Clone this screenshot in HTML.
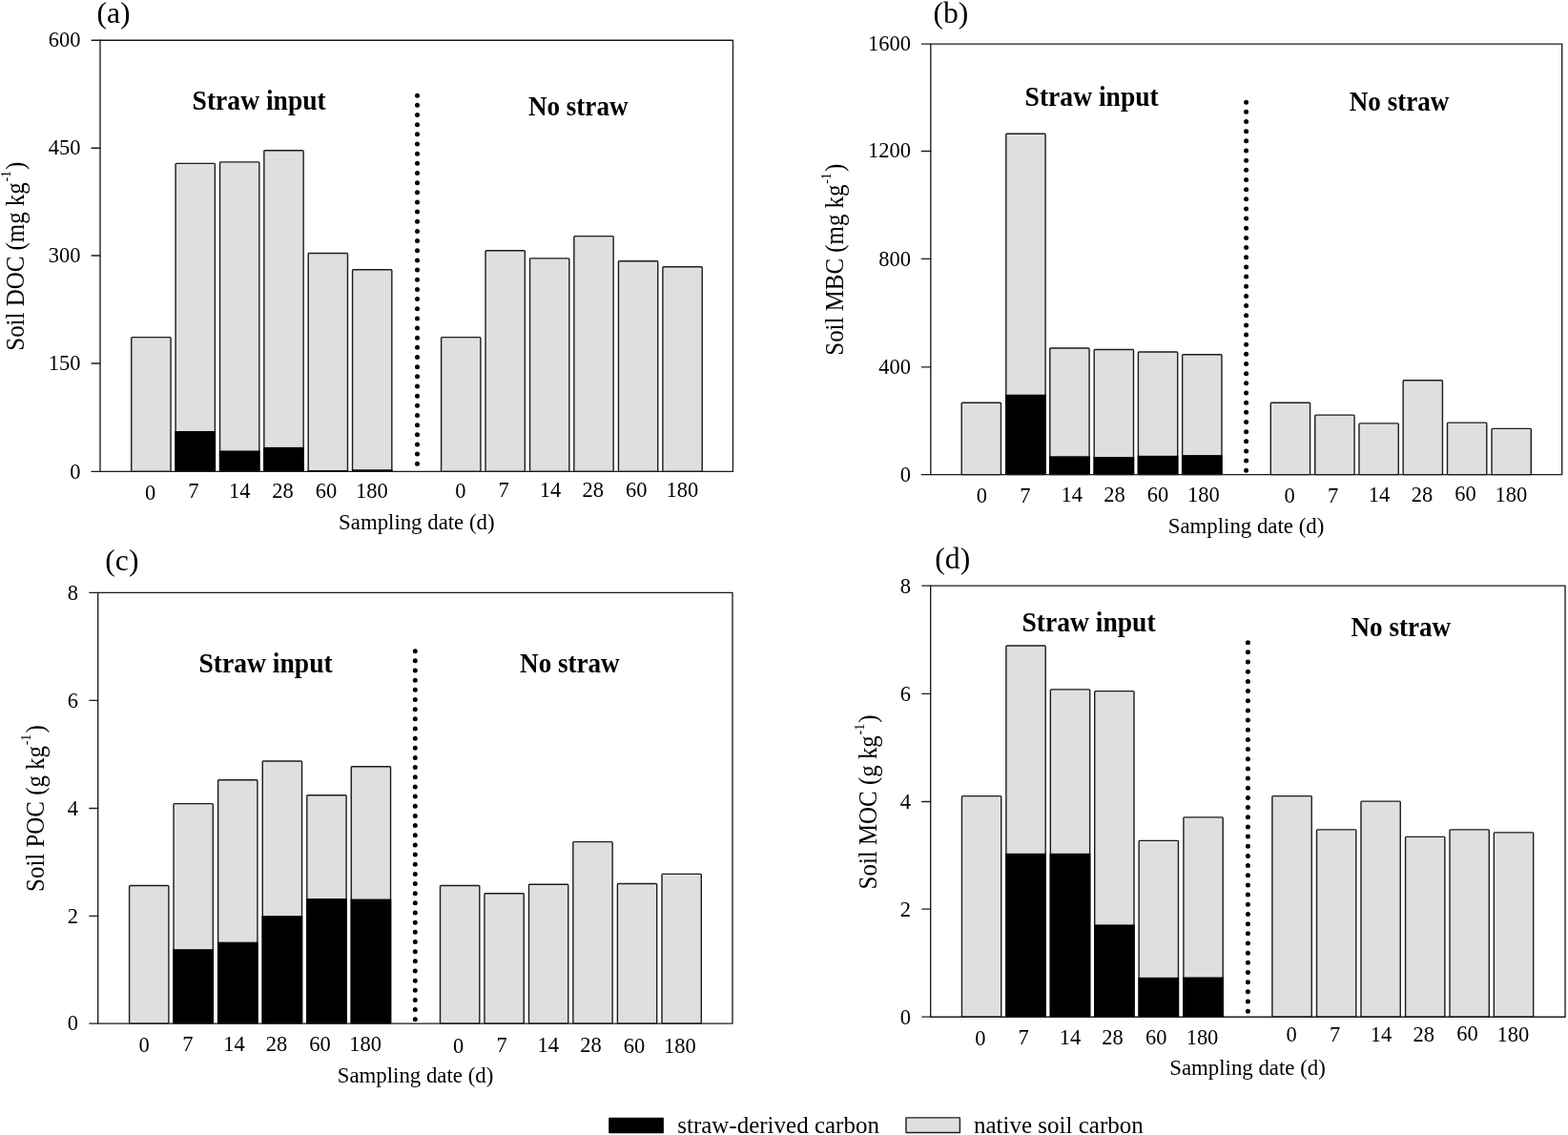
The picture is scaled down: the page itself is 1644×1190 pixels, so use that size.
<!DOCTYPE html>
<html lang="en">
<head>
<meta charset="utf-8">
<title>Soil carbon fractions: straw-derived and native soil carbon</title>
<style>
html,body{margin:0;padding:0;background:#fff;}
body{width:1644px;height:1190px;overflow:hidden;}
svg{display:block;}
text{font-family:"Liberation Serif","Times New Roman",Times,serif;fill:#000;}
.bar{fill:#dfdfdf;stroke:#1c1c1c;stroke-width:1.4;stroke-linejoin:round;}
.blk{fill:#000;}
.axes{fill:none;stroke:#1c1c1c;stroke-width:1.35;stroke-linejoin:round;}
.tick{stroke:#1c1c1c;stroke-width:1.35;stroke-linecap:round;}
.dots{stroke:#000;stroke-width:5.0;stroke-linecap:round;fill:none;}
.yt{font-size:23.3px;text-anchor:end;}
.xt{font-size:23.3px;text-anchor:middle;}
.xlab{font-size:23.3px;text-anchor:middle;}
.ylab{font-size:27.3px;}
.ypar{font-size:27.3px;text-anchor:end;}
.sup{font-size:15.5px;}
.grp{font-size:28.5px;font-weight:bold;text-anchor:middle;}
.letter{font-size:31.7px;}
.leg{font-size:25.6px;}
</style>
</head>
<body>
<svg width="1644" height="1190" viewBox="0 0 1644 1190">
<rect x="0" y="0" width="1644" height="1190" fill="#fff"/>
<g class="panel" id="panel-a">
<rect class="bar" x="137.75" y="353.6" width="41.3" height="140.8" rx="0.9"/>
<rect class="bar" x="184.1" y="171.4" width="41.3" height="323" rx="0.9"/>
<rect class="blk" x="183.4" y="452" width="42.7" height="42.4"/>
<rect class="bar" x="230.55" y="169.9" width="41.3" height="324.5" rx="0.9"/>
<rect class="blk" x="229.85" y="472.5" width="42.7" height="21.9"/>
<rect class="bar" x="276.85" y="157.8" width="41.3" height="336.6" rx="0.9"/>
<rect class="blk" x="276.15" y="468.9" width="42.7" height="25.5"/>
<rect class="bar" x="323.2" y="265.5" width="41.3" height="228.9" rx="0.9"/>
<rect class="blk" x="322.5" y="493" width="42.7" height="1.4"/>
<rect class="bar" x="369.55" y="282.8" width="41.3" height="211.6" rx="0.9"/>
<rect class="blk" x="368.85" y="492.3" width="42.7" height="2.1"/>
<rect class="bar" x="462.6" y="353.6" width="41.3" height="140.8" rx="0.9"/>
<rect class="bar" x="509.05" y="262.7" width="41.3" height="231.7" rx="0.9"/>
<rect class="bar" x="555.55" y="270.9" width="41.3" height="223.5" rx="0.9"/>
<rect class="bar" x="601.85" y="247.6" width="41.3" height="246.8" rx="0.9"/>
<rect class="bar" x="648.45" y="273.7" width="41.3" height="220.7" rx="0.9"/>
<rect class="bar" x="694.9" y="279.7" width="41.3" height="214.7" rx="0.9"/>
<line class="dots" x1="437.5" y1="100.2" x2="437.5" y2="486.31" stroke-dasharray="0 10.16"/>
<rect class="axes" x="105" y="42.25" width="663.45" height="452.15"/>
<line class="tick" x1="96.1" y1="42.25" x2="105" y2="42.25"/>
<text class="yt" transform="translate(84.4 49.45) scale(0.965 1)">600</text>
<line class="tick" x1="96.1" y1="155.2" x2="105" y2="155.2"/>
<text class="yt" transform="translate(84.4 162) scale(0.965 1)">450</text>
<line class="tick" x1="96.1" y1="268" x2="105" y2="268"/>
<text class="yt" transform="translate(84.4 274.8) scale(0.965 1)">300</text>
<line class="tick" x1="96.1" y1="381" x2="105" y2="381"/>
<text class="yt" transform="translate(84.4 388.2) scale(0.965 1)">150</text>
<line class="tick" x1="96.1" y1="494.4" x2="105" y2="494.4"/>
<text class="yt" transform="translate(84.4 501.9) scale(0.965 1)">0</text>
<text class="xt" transform="translate(157.5 524) scale(0.965 1)">0</text>
<text class="xt" transform="translate(202.9 522) scale(0.965 1)">7</text>
<text class="xt" transform="translate(251.2 522) scale(0.965 1)">14</text>
<text class="xt" transform="translate(296.4 522) scale(0.965 1)">28</text>
<text class="xt" transform="translate(341.9 522.3) scale(0.965 1)">60</text>
<text class="xt" transform="translate(389.9 521.9) scale(0.965 1)">180</text>
<text class="xt" transform="translate(482.9 521.5) scale(0.965 1)">0</text>
<text class="xt" transform="translate(528.2 520.9) scale(0.965 1)">7</text>
<text class="xt" transform="translate(577 520.9) scale(0.965 1)">14</text>
<text class="xt" transform="translate(621.7 520.9) scale(0.965 1)">28</text>
<text class="xt" transform="translate(667.3 520.8) scale(0.965 1)">60</text>
<text class="xt" transform="translate(715.3 521) scale(0.965 1)">180</text>
<text class="letter" transform="translate(101.5 24.2)">(a)</text>
<text class="grp" transform="translate(271.7 115.4) scale(0.968 1)">Straw input</text>
<text class="grp" transform="translate(606.2 120.8) scale(0.951 1)">No straw</text>
<text class="xlab" transform="translate(436.8 554.9) scale(0.98 1)">Sampling date (d)</text>
<g transform="translate(24.9 367.7) rotate(-90)">
<text class="ylab" transform="translate(0 0) scale(0.9127 1)">Soil DOC (mg kg</text>
<text class="sup" transform="translate(177.11 -13.5) scale(0.9 1)">-1</text>
<text class="ypar" transform="translate(198.11 0) scale(0.9127 1)">)</text>
</g>
</g>
<g class="panel" id="panel-b">
<rect class="bar" x="1008.2" y="422.3" width="41.3" height="75.3" rx="0.9"/>
<rect class="bar" x="1054.8" y="140.3" width="41.3" height="357.3" rx="0.9"/>
<rect class="blk" x="1054.1" y="413.7" width="42.7" height="83.9"/>
<rect class="bar" x="1100.75" y="365" width="41.3" height="132.6" rx="0.9"/>
<rect class="blk" x="1100.05" y="478.3" width="42.7" height="19.3"/>
<rect class="bar" x="1147.2" y="366.5" width="41.3" height="131.1" rx="0.9"/>
<rect class="blk" x="1146.5" y="479.1" width="42.7" height="18.5"/>
<rect class="bar" x="1193.4" y="369" width="41.3" height="128.6" rx="0.9"/>
<rect class="blk" x="1192.7" y="477.8" width="42.7" height="19.8"/>
<rect class="bar" x="1239.65" y="371.7" width="41.3" height="125.9" rx="0.9"/>
<rect class="blk" x="1238.95" y="477.1" width="42.7" height="20.5"/>
<rect class="bar" x="1332.3" y="422.3" width="41.3" height="75.3" rx="0.9"/>
<rect class="bar" x="1378.75" y="435.1" width="41.3" height="62.5" rx="0.9"/>
<rect class="bar" x="1424.95" y="443.9" width="41.3" height="53.7" rx="0.9"/>
<rect class="bar" x="1471.15" y="398.8" width="41.3" height="98.8" rx="0.9"/>
<rect class="bar" x="1517.5" y="443.1" width="41.3" height="54.5" rx="0.9"/>
<rect class="bar" x="1564" y="449.4" width="41.3" height="48.2" rx="0.9"/>
<line class="dots" x1="1306.6" y1="107.2" x2="1306.6" y2="493.31" stroke-dasharray="0 10.16"/>
<rect class="axes" x="975.8" y="46.1" width="661.9" height="451.5"/>
<line class="tick" x1="966.3" y1="46.1" x2="975.8" y2="46.1"/>
<text class="yt" transform="translate(955 53) scale(0.965 1)">1600</text>
<line class="tick" x1="966.3" y1="158.5" x2="975.8" y2="158.5"/>
<text class="yt" transform="translate(955 165.3) scale(0.965 1)">1200</text>
<line class="tick" x1="966.3" y1="271.4" x2="975.8" y2="271.4"/>
<text class="yt" transform="translate(955 278.8) scale(0.965 1)">800</text>
<line class="tick" x1="966.3" y1="384.8" x2="975.8" y2="384.8"/>
<text class="yt" transform="translate(955 392.1) scale(0.965 1)">400</text>
<line class="tick" x1="966.3" y1="497.6" x2="975.8" y2="497.6"/>
<text class="yt" transform="translate(955 505.1) scale(0.965 1)">0</text>
<text class="xt" transform="translate(1029.4 527.1) scale(0.965 1)">0</text>
<text class="xt" transform="translate(1074.9 526.6) scale(0.965 1)">7</text>
<text class="xt" transform="translate(1123.8 526.4) scale(0.965 1)">14</text>
<text class="xt" transform="translate(1168.4 526.4) scale(0.965 1)">28</text>
<text class="xt" transform="translate(1213.9 525.6) scale(0.965 1)">60</text>
<text class="xt" transform="translate(1261.8 526.3) scale(0.965 1)">180</text>
<text class="xt" transform="translate(1352 527.1) scale(0.965 1)">0</text>
<text class="xt" transform="translate(1397.5 526.6) scale(0.965 1)">7</text>
<text class="xt" transform="translate(1445.9 526.4) scale(0.965 1)">14</text>
<text class="xt" transform="translate(1491 526.4) scale(0.965 1)">28</text>
<text class="xt" transform="translate(1536.5 525.1) scale(0.965 1)">60</text>
<text class="xt" transform="translate(1584.4 526.3) scale(0.965 1)">180</text>
<text class="letter" transform="translate(978.4 24.2)">(b)</text>
<text class="grp" transform="translate(1144.7 110.7) scale(0.968 1)">Straw input</text>
<text class="grp" transform="translate(1467.1 115.7) scale(0.951 1)">No straw</text>
<text class="xlab" transform="translate(1306.5 558.8) scale(0.98 1)">Sampling date (d)</text>
<g transform="translate(884.3 372.7) rotate(-90)">
<text class="ylab" transform="translate(0 0) scale(0.9127 1)">Soil MBC (mg kg</text>
<text class="sup" transform="translate(179.9 -13.5) scale(0.9 1)">-1</text>
<text class="ypar" transform="translate(200.9 0) scale(0.9127 1)">)</text>
</g>
</g>
<g class="panel" id="panel-c">
<rect class="bar" x="135.6" y="928.5" width="41.3" height="144.6" rx="0.9"/>
<rect class="bar" x="182.05" y="842.6" width="41.3" height="230.5" rx="0.9"/>
<rect class="blk" x="181.35" y="995.2" width="42.7" height="77.9"/>
<rect class="bar" x="228.65" y="817.8" width="41.3" height="255.3" rx="0.9"/>
<rect class="blk" x="227.95" y="987.7" width="42.7" height="85.4"/>
<rect class="bar" x="275.25" y="798" width="41.3" height="275.1" rx="0.9"/>
<rect class="blk" x="274.55" y="960.2" width="42.7" height="112.9"/>
<rect class="bar" x="321.8" y="833.8" width="41.3" height="239.3" rx="0.9"/>
<rect class="blk" x="321.1" y="942.1" width="42.7" height="131"/>
<rect class="bar" x="368.25" y="803.8" width="41.3" height="269.3" rx="0.9"/>
<rect class="blk" x="367.55" y="942.6" width="42.7" height="130.5"/>
<rect class="bar" x="461.5" y="928.5" width="41.3" height="144.6" rx="0.9"/>
<rect class="bar" x="507.95" y="936.7" width="41.3" height="136.4" rx="0.9"/>
<rect class="bar" x="554.5" y="927.2" width="41.3" height="145.9" rx="0.9"/>
<rect class="bar" x="600.85" y="882.6" width="41.3" height="190.5" rx="0.9"/>
<rect class="bar" x="647.4" y="926.5" width="41.3" height="146.6" rx="0.9"/>
<rect class="bar" x="694" y="916.4" width="41.3" height="156.7" rx="0.9"/>
<line class="dots" x1="435.3" y1="682.7" x2="435.3" y2="1068.91" stroke-dasharray="0 10.16"/>
<rect class="axes" x="102.7" y="621.3" width="665.3" height="451.8"/>
<line class="tick" x1="93.8" y1="621.3" x2="102.7" y2="621.3"/>
<text class="yt" transform="translate(81.9 628.6) scale(0.965 1)">8</text>
<line class="tick" x1="93.8" y1="734.3" x2="102.7" y2="734.3"/>
<text class="yt" transform="translate(81.9 741.6) scale(0.965 1)">6</text>
<line class="tick" x1="93.8" y1="847.5" x2="102.7" y2="847.5"/>
<text class="yt" transform="translate(81.9 854.8) scale(0.965 1)">4</text>
<line class="tick" x1="93.8" y1="960.4" x2="102.7" y2="960.4"/>
<text class="yt" transform="translate(81.9 967.7) scale(0.965 1)">2</text>
<line class="tick" x1="93.8" y1="1073.1" x2="102.7" y2="1073.1"/>
<text class="yt" transform="translate(81.9 1080.4) scale(0.965 1)">0</text>
<text class="xt" transform="translate(151 1102.8) scale(0.965 1)">0</text>
<text class="xt" transform="translate(196.8 1102.4) scale(0.965 1)">7</text>
<text class="xt" transform="translate(245.4 1102.4) scale(0.965 1)">14</text>
<text class="xt" transform="translate(290 1102.4) scale(0.965 1)">28</text>
<text class="xt" transform="translate(335.6 1101.8) scale(0.965 1)">60</text>
<text class="xt" transform="translate(383.2 1102.3) scale(0.965 1)">180</text>
<text class="xt" transform="translate(480.6 1104.2) scale(0.965 1)">0</text>
<text class="xt" transform="translate(526.2 1103) scale(0.965 1)">7</text>
<text class="xt" transform="translate(574.8 1103.2) scale(0.965 1)">14</text>
<text class="xt" transform="translate(619.4 1103.2) scale(0.965 1)">28</text>
<text class="xt" transform="translate(664.9 1103.5) scale(0.965 1)">60</text>
<text class="xt" transform="translate(712.8 1103.8) scale(0.965 1)">180</text>
<text class="letter" transform="translate(110.3 598.2)">(c)</text>
<text class="grp" transform="translate(278.6 704.7) scale(0.968 1)">Straw input</text>
<text class="grp" transform="translate(597.4 704.5) scale(0.951 1)">No straw</text>
<text class="xlab" transform="translate(435.5 1134.7) scale(0.98 1)">Sampling date (d)</text>
<g transform="translate(45.8 934.9) rotate(-90)">
<text class="ylab" transform="translate(0 0) scale(0.9127 1)">Soil POC (g kg</text>
<text class="sup" transform="translate(153.59 -13.5) scale(0.9 1)">-1</text>
<text class="ypar" transform="translate(174.59 0) scale(0.9127 1)">)</text>
</g>
</g>
<g class="panel" id="panel-d">
<rect class="bar" x="1008.45" y="834.6" width="41.3" height="231.6" rx="0.9"/>
<rect class="bar" x="1054.9" y="677" width="41.3" height="389.2" rx="0.9"/>
<rect class="blk" x="1054.2" y="894.8" width="42.7" height="171.4"/>
<rect class="bar" x="1101.35" y="722.9" width="41.3" height="343.3" rx="0.9"/>
<rect class="blk" x="1100.65" y="894.8" width="42.7" height="171.4"/>
<rect class="bar" x="1147.7" y="724.6" width="41.3" height="341.6" rx="0.9"/>
<rect class="blk" x="1147" y="969.4" width="42.7" height="96.8"/>
<rect class="bar" x="1194.15" y="881.4" width="41.3" height="184.8" rx="0.9"/>
<rect class="blk" x="1193.45" y="1024.8" width="42.7" height="41.4"/>
<rect class="bar" x="1240.9" y="856.9" width="41.3" height="209.3" rx="0.9"/>
<rect class="blk" x="1240.2" y="1024.5" width="42.7" height="41.7"/>
<rect class="bar" x="1333.9" y="834.6" width="41.3" height="231.6" rx="0.9"/>
<rect class="bar" x="1380.5" y="869.9" width="41.3" height="196.3" rx="0.9"/>
<rect class="bar" x="1426.95" y="840.1" width="41.3" height="226.1" rx="0.9"/>
<rect class="bar" x="1473.55" y="877.4" width="41.3" height="188.8" rx="0.9"/>
<rect class="bar" x="1520" y="869.9" width="41.3" height="196.3" rx="0.9"/>
<rect class="bar" x="1566.35" y="872.9" width="41.3" height="193.3" rx="0.9"/>
<line class="dots" x1="1308.4" y1="673.7" x2="1308.4" y2="1060.31" stroke-dasharray="0 10.17"/>
<rect class="axes" x="975.7" y="614.1" width="665.35" height="452.1"/>
<line class="tick" x1="966.8" y1="614.1" x2="975.7" y2="614.1"/>
<text class="yt" transform="translate(955 621.6) scale(0.965 1)">8</text>
<line class="tick" x1="966.8" y1="727.3" x2="975.7" y2="727.3"/>
<text class="yt" transform="translate(955 734.8) scale(0.965 1)">6</text>
<line class="tick" x1="966.8" y1="840.5" x2="975.7" y2="840.5"/>
<text class="yt" transform="translate(955 848) scale(0.965 1)">4</text>
<line class="tick" x1="966.8" y1="953.1" x2="975.7" y2="953.1"/>
<text class="yt" transform="translate(955 960.6) scale(0.965 1)">2</text>
<line class="tick" x1="966.8" y1="1066.1" x2="975.7" y2="1066.1"/>
<text class="yt" transform="translate(955 1073.6) scale(0.965 1)">0</text>
<text class="xt" transform="translate(1027.9 1095.7) scale(0.965 1)">0</text>
<text class="xt" transform="translate(1073.2 1094.7) scale(0.965 1)">7</text>
<text class="xt" transform="translate(1122 1094.7) scale(0.965 1)">14</text>
<text class="xt" transform="translate(1166.6 1094.7) scale(0.965 1)">28</text>
<text class="xt" transform="translate(1212.2 1094.7) scale(0.965 1)">60</text>
<text class="xt" transform="translate(1260.5 1094.8) scale(0.965 1)">180</text>
<text class="xt" transform="translate(1354 1092.3) scale(0.965 1)">0</text>
<text class="xt" transform="translate(1399.5 1091.6) scale(0.965 1)">7</text>
<text class="xt" transform="translate(1447.9 1091.6) scale(0.965 1)">14</text>
<text class="xt" transform="translate(1492.7 1091.6) scale(0.965 1)">28</text>
<text class="xt" transform="translate(1538.5 1090.6) scale(0.965 1)">60</text>
<text class="xt" transform="translate(1586.4 1091.5) scale(0.965 1)">180</text>
<text class="letter" transform="translate(980.3 596)">(d)</text>
<text class="grp" transform="translate(1141.5 662) scale(0.968 1)">Straw input</text>
<text class="grp" transform="translate(1468.8 667.1) scale(0.951 1)">No straw</text>
<text class="xlab" transform="translate(1308 1127.2) scale(0.98 1)">Sampling date (d)</text>
<g transform="translate(919.4 932.4) rotate(-90)">
<text class="ylab" transform="translate(0 0) scale(0.9127 1)">Soil MOC (g kg</text>
<text class="sup" transform="translate(161.89 -13.5) scale(0.9 1)">-1</text>
<text class="ypar" transform="translate(182.89 0) scale(0.9127 1)">)</text>
</g>
</g>
<g id="legend">
<rect class="blk" x="638.2" y="1171.7" width="57.7" height="16.6" rx="0.8"/>
<text class="leg" transform="translate(710.2 1187.8) scale(0.977 1)">straw-derived carbon</text>
<rect class="bar" x="950" y="1171.9" width="56.4" height="15.6"/>
<text class="leg" transform="translate(1021 1187.8) scale(0.977 1)">native soil carbon</text>
</g>
</svg>
</body>
</html>
